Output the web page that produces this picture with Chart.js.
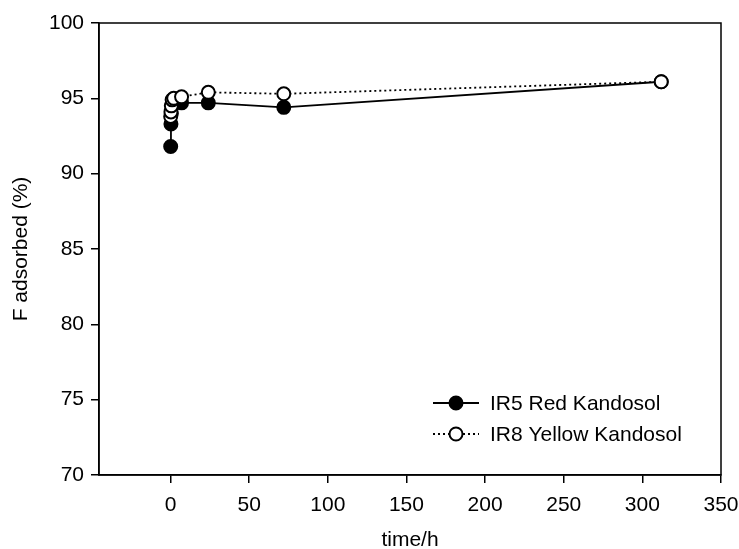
<!DOCTYPE html>
<html>
<head>
<meta charset="utf-8">
<script src="https://cdn.jsdelivr.net/npm/chart.js@4"></script>
<style>
  html, body { margin: 0; padding: 0; background: #fff; }
  #wrap { width: 739px; height: 549px; }
</style>
</head>
<body>
<div id="wrap"><canvas id="chart" width="739" height="549"></canvas></div>
<script>
// time in hours
const redTimes = [0.08, 0.25, 0.5, 1, 2, 7, 24, 72, 312];
const redValues = [91.8, 93.3, 94.0, 94.5, 94.7, 94.7, 94.7, 94.4, 96.1];
const yellowTimes = [0.08, 0.25, 0.5, 1, 2, 7, 24, 72, 312];
const yellowValues = [93.8, 94.1, 94.5, 94.9, 95.0, 95.1, 95.4, 95.3, 96.1];
const xTicks = [0, 50, 100, 150, 200, 250, 300, 350];
const yTicks = [70, 75, 80, 85, 90, 95, 100];

const FONT = { family: '"Liberation Sans", Arial, sans-serif', size: 21 };

function toPoints(xs, ys) {
  return xs.map((x, i) => ({ x: x, y: ys[i] }));
}

// box around the plot area
const frame = {
  id: 'frame',
  afterDatasetsDraw(chart) {
    const { ctx, chartArea: a } = chart;
    ctx.save();
    ctx.strokeStyle = '#000';
    ctx.lineWidth = 1.5;
    ctx.strokeRect(a.left, a.top, a.right - a.left, a.bottom - a.top);
    ctx.restore();
  }
};

// legend drawn inside plot, bottom right
const innerLegend = {
  id: 'innerLegend',
  afterDraw(chart) {
    const ctx = chart.ctx;
    const rows = [chart.data.datasets[1], chart.data.datasets[0]];
    ctx.save();
    ctx.font = FONT.size + 'px ' + FONT.family;
    ctx.textBaseline = 'middle';
    rows.forEach((ds, i) => {
      const y = 403 + i * 31;
      ctx.beginPath();
      ctx.setLineDash(ds.borderDash || []);
      ctx.lineWidth = ds.borderWidth;
      ctx.strokeStyle = '#000';
      ctx.moveTo(433, y);
      ctx.lineTo(479, y);
      ctx.stroke();
      ctx.setLineDash([]);
      ctx.beginPath();
      ctx.arc(456, y, ds.pointRadius, 0, Math.PI * 2);
      ctx.fillStyle = ds.pointBackgroundColor;
      ctx.fill();
      ctx.lineWidth = ds.pointBorderWidth;
      ctx.stroke();
      ctx.fillStyle = '#000';
      ctx.fillText(ds.label, 490, y + 1);
    });
    ctx.restore();
  }
};

new Chart(document.getElementById('chart'), {
  type: 'line',
  data: {
    datasets: [
      {
        label: 'IR8 Yellow Kandosol',
        data: toPoints(yellowTimes, yellowValues),
        borderColor: '#000',
        borderWidth: 1.8,
        borderDash: [2, 3],
        pointRadius: 6.5,
        pointBorderWidth: 2,
        pointBackgroundColor: '#fff',
        pointBorderColor: '#000',
        order: 0
      },
      {
        label: 'IR5 Red Kandosol',
        data: toPoints(redTimes, redValues),
        borderColor: '#000',
        borderWidth: 1.8,
        pointRadius: 6.5,
        pointBorderWidth: 2,
        pointBackgroundColor: '#000',
        pointBorderColor: '#000',
        order: 1
      }
    ]
  },
  options: {
    responsive: false,
    animation: false,
    layout: { padding: { top: 23, right: 18, left: 0, bottom: 0 } },
    plugins: {
      legend: { display: false },
      tooltip: { enabled: false }
    },
    scales: {
      x: {
        type: 'linear',
        min: -45.5,
        max: 350,
        afterBuildTicks: (axis) => { axis.ticks = xTicks.map(v => ({ value: v })); },
        afterFit: (scale) => {
          scale.height = 74;
          scale.paddingLeft = 0;
          scale.paddingRight = 0;
        },
        grid: { drawOnChartArea: false, drawTicks: true, tickLength: 8, color: '#000', lineWidth: 1.5 },
        border: { display: true, color: '#000', width: 1.5 },
        ticks: { color: '#000', font: FONT, padding: 10, maxRotation: 0 },
        title: { display: true, text: 'time/h', color: '#000', font: FONT, padding: { top: 0, bottom: -4 } }
      },
      y: {
        min: 70,
        max: 100,
        afterBuildTicks: (axis) => { axis.ticks = yTicks.map(v => ({ value: v })); },
        afterFit: (scale) => {
          scale.width = 99;
          scale.paddingTop = 0;
          scale.paddingBottom = 0;
        },
        grid: { drawOnChartArea: false, drawTicks: true, tickLength: 8, color: '#000', lineWidth: 1.5 },
        border: { display: true, color: '#000', width: 1.5 },
        ticks: { color: '#000', font: FONT, padding: 7 },
        title: { display: true, text: 'F adsorbed (%)', color: '#000', font: FONT, padding: { top: 9, bottom: 0 } }
      }
    }
  },
  plugins: [frame, innerLegend]
});
</script>
</body>
</html>
